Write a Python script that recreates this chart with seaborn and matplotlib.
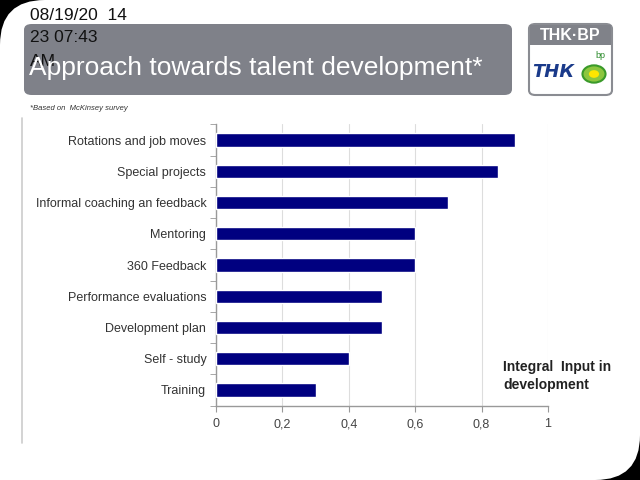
import matplotlib
matplotlib.use("Agg")
import matplotlib.pyplot as plt
from matplotlib.patches import FancyBboxPatch, Rectangle, Circle
import seaborn as sns
import pandas as pd

categories = ["Rotations and job moves", "Special projects", "Informal coaching an feedback",
              "Mentoring", "360 Feedback", "Performance evaluations", "Development plan",
              "Self - study", "Training"]
values = [0.90, 0.85, 0.70, 0.60, 0.60, 0.50, 0.50, 0.40, 0.30]
xticks = [0, 0.2, 0.4, 0.6, 0.8, 1.0]
xtick_labels = ["0", "0,2", "0,4", "0,6", "0,8", "1"]

title = "Approach towards talent development*"
date_lines = ["08/19/20  14", "23 07:43", "AM"]
note = "*Based on  McKinsey survey"
annotation = "Integral  Input in\ndevelopment"

sns.set_style("white")
plt.rcParams["font.family"] = ["Liberation Sans", "DejaVu Sans"]

df = pd.DataFrame({"category": categories, "value": values})

W, H = 640, 480
fig = plt.figure(figsize=(6.4, 4.8), dpi=100, facecolor="black")

def fx(px):
    return px / W

def fy(py):
    return 1 - py / H

# white page with rounded corners; only top-left and bottom-right show black
page = FancyBboxPatch((fx(0), fy(480)), 1, 1, boxstyle="round,pad=0,rounding_size=0.07",
                      transform=fig.transFigure, facecolor="white", edgecolor="none",
                      mutation_aspect=W / H, zorder=-3)
fig.patches.append(page)
fig.patches.append(Rectangle((0.5, 0.5), 0.5, 0.5, transform=fig.transFigure,
                             facecolor="white", edgecolor="none", zorder=-3))
fig.patches.append(Rectangle((0, 0), 0.5, 0.5, transform=fig.transFigure,
                             facecolor="white", edgecolor="none", zorder=-3))

# gray title band
band = FancyBboxPatch((fx(24), fy(95)), fx(512 - 24), (95 - 24) / H,
                      boxstyle="round,pad=0,rounding_size=0.012",
                      transform=fig.transFigure, facecolor="#7f8189", edgecolor="none", zorder=1)
fig.patches.append(band)

# logo
logo = FancyBboxPatch((fx(529), fy(95)), fx(612 - 529), (95 - 24) / H,
                      boxstyle="round,pad=0,rounding_size=0.01",
                      transform=fig.transFigure, facecolor="white", edgecolor="#8a8c92",
                      linewidth=1.5, zorder=1)
fig.patches.append(logo)
fig.patches.append(Rectangle((fx(530), fy(45)), fx(611 - 530), 20 / H, transform=fig.transFigure,
                             facecolor="#808289", edgecolor="none", zorder=2))
fig.text(fx(570), fy(35), "THK·BP", color="white", fontsize=11.5, fontweight="bold",
         ha="center", va="center", zorder=3)
fig.text(fx(553), fy(72), "ТНК", color="#1a3a8a", fontsize=13, fontweight="bold",
         style="italic", ha="center", va="center", family=["DejaVu Sans"], zorder=3)
fig.patches.append(Circle((fx(594), fy(74)), 0.018, transform=fig.transFigure,
                          facecolor="#8cc63f", edgecolor="#3a9a2a", linewidth=1.5, zorder=3))
fig.patches.append(Circle((fx(594), fy(74)), 0.008, transform=fig.transFigure,
                          facecolor="#ffe600", edgecolor="none", zorder=4))
fig.text(fx(600), fy(55), "bp", color="#2a8a2a", fontsize=6.5, ha="center", va="center", zorder=3)

# date text (black) behind title
for i, line in enumerate(date_lines):
    fig.text(fx(30), fy(15 + 23 * i), line, color="#111111", fontsize=12.5, ha="left",
             va="center", zorder=2)
fig.text(fx(29), fy(68), title, color="white", fontsize=19, ha="left", va="center", zorder=3)

fig.text(fx(30), fy(108), note, color="#333333", fontsize=5.5, style="italic",
         ha="left", va="center")

# thin left line
fig.lines.append(plt.Line2D([fx(22), fx(22)], [fy(118), fy(443)], transform=fig.transFigure,
                            color="#cccccc", linewidth=1.2, zorder=1))

ax = fig.add_axes([fx(216), fy(405.6), fx(548 - 216), (405.6 - 124.4) / H])
ax.set_zorder(5)
ax.set_facecolor("white")
sns.barplot(data=df, x="value", y="category", color="#000080", width=0.42,
            saturation=1, ax=ax, orient="h", zorder=3)
ax.set_xlim(0, 1)
ax.set_ylim(8.5, -0.5)
ax.set_xticks(xticks)
ax.set_xticklabels(xtick_labels)
ax.set_yticks([i - 0.5 for i in range(10)], minor=True)
ax.tick_params(axis="y", which="major", length=0, labelsize=9, colors="#333333", pad=7)
ax.tick_params(axis="y", which="minor", length=4, color="#999999", direction="out", left=True)
ax.tick_params(axis="x", which="major", length=4, color="#999999", direction="out", bottom=True,
               labelsize=9, labelcolor="#444444", pad=5)
ax.xaxis.grid(True, color="#dddddd", linewidth=0.8, zorder=0)
ax.set_axisbelow(True)
ax.set_xlabel("")
ax.set_ylabel("")
for s in ["top", "right"]:
    ax.spines[s].set_visible(False)
for s in ["left", "bottom"]:
    ax.spines[s].set_color("#999999")
    ax.spines[s].set_linewidth(1.0)

fig.text(fx(503), fy(376), annotation, color="#222222", fontsize=10, fontweight="bold",
         ha="left", va="center", linespacing=1.35, zorder=6)

fig.savefig("out.png", dpi=100, facecolor=fig.get_facecolor())
